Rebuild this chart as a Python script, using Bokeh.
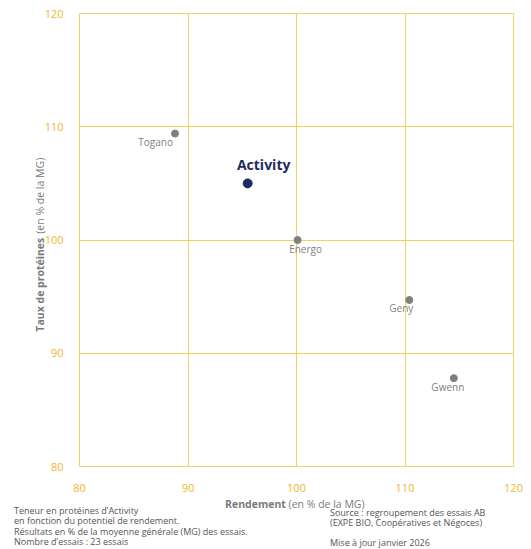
import math
from bokeh.plotting import figure
from bokeh.models import Label, ColumnDataSource, FixedTicker, Range1d, Div
from bokeh.layouts import column
from bokeh.core.properties import value
from bokeh.embed import file_html
from bokeh.resources import INLINE

# ---- data ----
varieties = ["Togano", "Energo", "Geny", "Gwenn"]
rendement = [88.8, 100.1, 110.4, 114.5]
proteines = [109.4, 100.0, 94.7, 87.8]

focus_name = "Activity"
focus_rendement = [95.5]
focus_proteines = [105.0]

ticks = [80, 90, 100, 110, 120]

x_title_bold = "Rendement"
x_title_rest = "(en % de la MG)"
y_title_bold = "Taux de protéines"
y_title_rest = "(en % de la MG)"

footer_left = [
    "Teneur en protéines d\u2019Activity",
    "en fonction du potentiel de rendement.",
    "Résultats en % de la moyenne générale (MG) des essais.",
    "Nombre d\u2019essais : 23 essais",
]
footer_right = [
    "Source : regroupement des essais AB",
    "(EXPE BIO, Coopératives et Négoces)",
    "",
    "Mise à jour janvier 2026",
]

# ---- style ----
FONT = "Open Sans"
GOLD = "#F2B52B"
GRID = "#F5CF63"
GRAY = "#7F7F7F"
NAVY = "#1F2B5E"
TITLE = "#7A7A7A"
FOOT = "#555555"

label_align = ["right", "center", "center", "center"]
label_dx = [-2, 8, -8, -6]
label_dy = [8, 9, 8, 9]

p = figure(width=523, height=494, output_backend="svg", toolbar_location=None,
           x_range=Range1d(80, 120), y_range=Range1d(80, 120),
           min_border_left=79, min_border_right=10, min_border_top=13, min_border_bottom=28)

p.outline_line_color = GRID
p.outline_line_width = 1
for ax in (p.xaxis, p.yaxis):
    ax.ticker = FixedTicker(ticks=ticks)
    ax.axis_line_color = None
    ax.major_tick_line_color = None
    ax.minor_tick_line_color = None
    ax.major_label_text_color = GOLD
    ax.major_label_text_font = FONT
    ax.major_label_text_font_size = "11px"
p.xaxis.major_label_standoff = 11
p.yaxis.major_label_standoff = 10
p.xgrid.grid_line_color = GRID
p.ygrid.grid_line_color = GRID
p.xgrid.ticker = FixedTicker(ticks=ticks)
p.ygrid.ticker = FixedTicker(ticks=ticks)

src = ColumnDataSource(dict(x=rendement, y=proteines, name=varieties,
                            align=label_align, dx=label_dx, dy=label_dy))
p.scatter("x", "y", source=src, size=7, color=GRAY)
p.text("x", "y", text="name", source=src, text_align="align", text_baseline="middle",
       x_offset="dx", y_offset="dy", text_color=GRAY, text_font=value(FONT),
       text_font_size="10px")

fsrc = ColumnDataSource(dict(x=focus_rendement, y=focus_proteines, name=[focus_name]))
p.scatter("x", "y", source=fsrc, size=9, color=NAVY)
p.text("x", "y", text="name", source=fsrc, text_align="center", text_baseline="middle",
       x_offset=16, y_offset=-19, text_color=NAVY, text_font=value(FONT),
       text_font_size="14px", text_font_style="bold")

# y-axis title: two rotated labels in the left side panel (not clipped)
p.add_layout(Label(x=76.4, y=100.2, text=y_title_bold, angle=math.pi / 2,
                   text_align="right", text_baseline="middle", text_font=FONT,
                   text_font_size="10.5px", text_font_style="bold", text_color=TITLE), "left")
p.add_layout(Label(x=76.4, y=100.55, text=y_title_rest, angle=math.pi / 2,
                   text_align="left", text_baseline="middle", text_font=FONT,
                   text_font_size="10.5px", text_color=TITLE), "left")

# ---- HTML block below the chart: x title and footnotes ----
def block(lines, left, top, lh):
    inner = "<br>".join(l if l else "&nbsp;" for l in lines)
    return (f'<div style="position:absolute;left:{left}px;top:{top}px;white-space:nowrap;'
            f'font-family:\'{FONT}\';font-size:9px;line-height:{lh}px;color:{FOOT}">{inner}</div>')

html = (
    '<div style="position:relative;width:523px;height:55px;">'
    f'<div style="position:absolute;left:225px;top:3px;white-space:nowrap;font-family:\'{FONT}\';'
    f'font-size:10.5px;line-height:14px;color:{TITLE}"><b>{x_title_bold}</b> {x_title_rest}</div>'
    + block(footer_left, 14, 12, 10.4)
    + block(footer_right, 330, 14, 10)
    + '</div>'
)
div = Div(text=html, width=523, height=55, margin=(0, 0, 0, 0))

layout = column(p, div, spacing=0)
open("out.html", "w").write(file_html(layout, INLINE))
